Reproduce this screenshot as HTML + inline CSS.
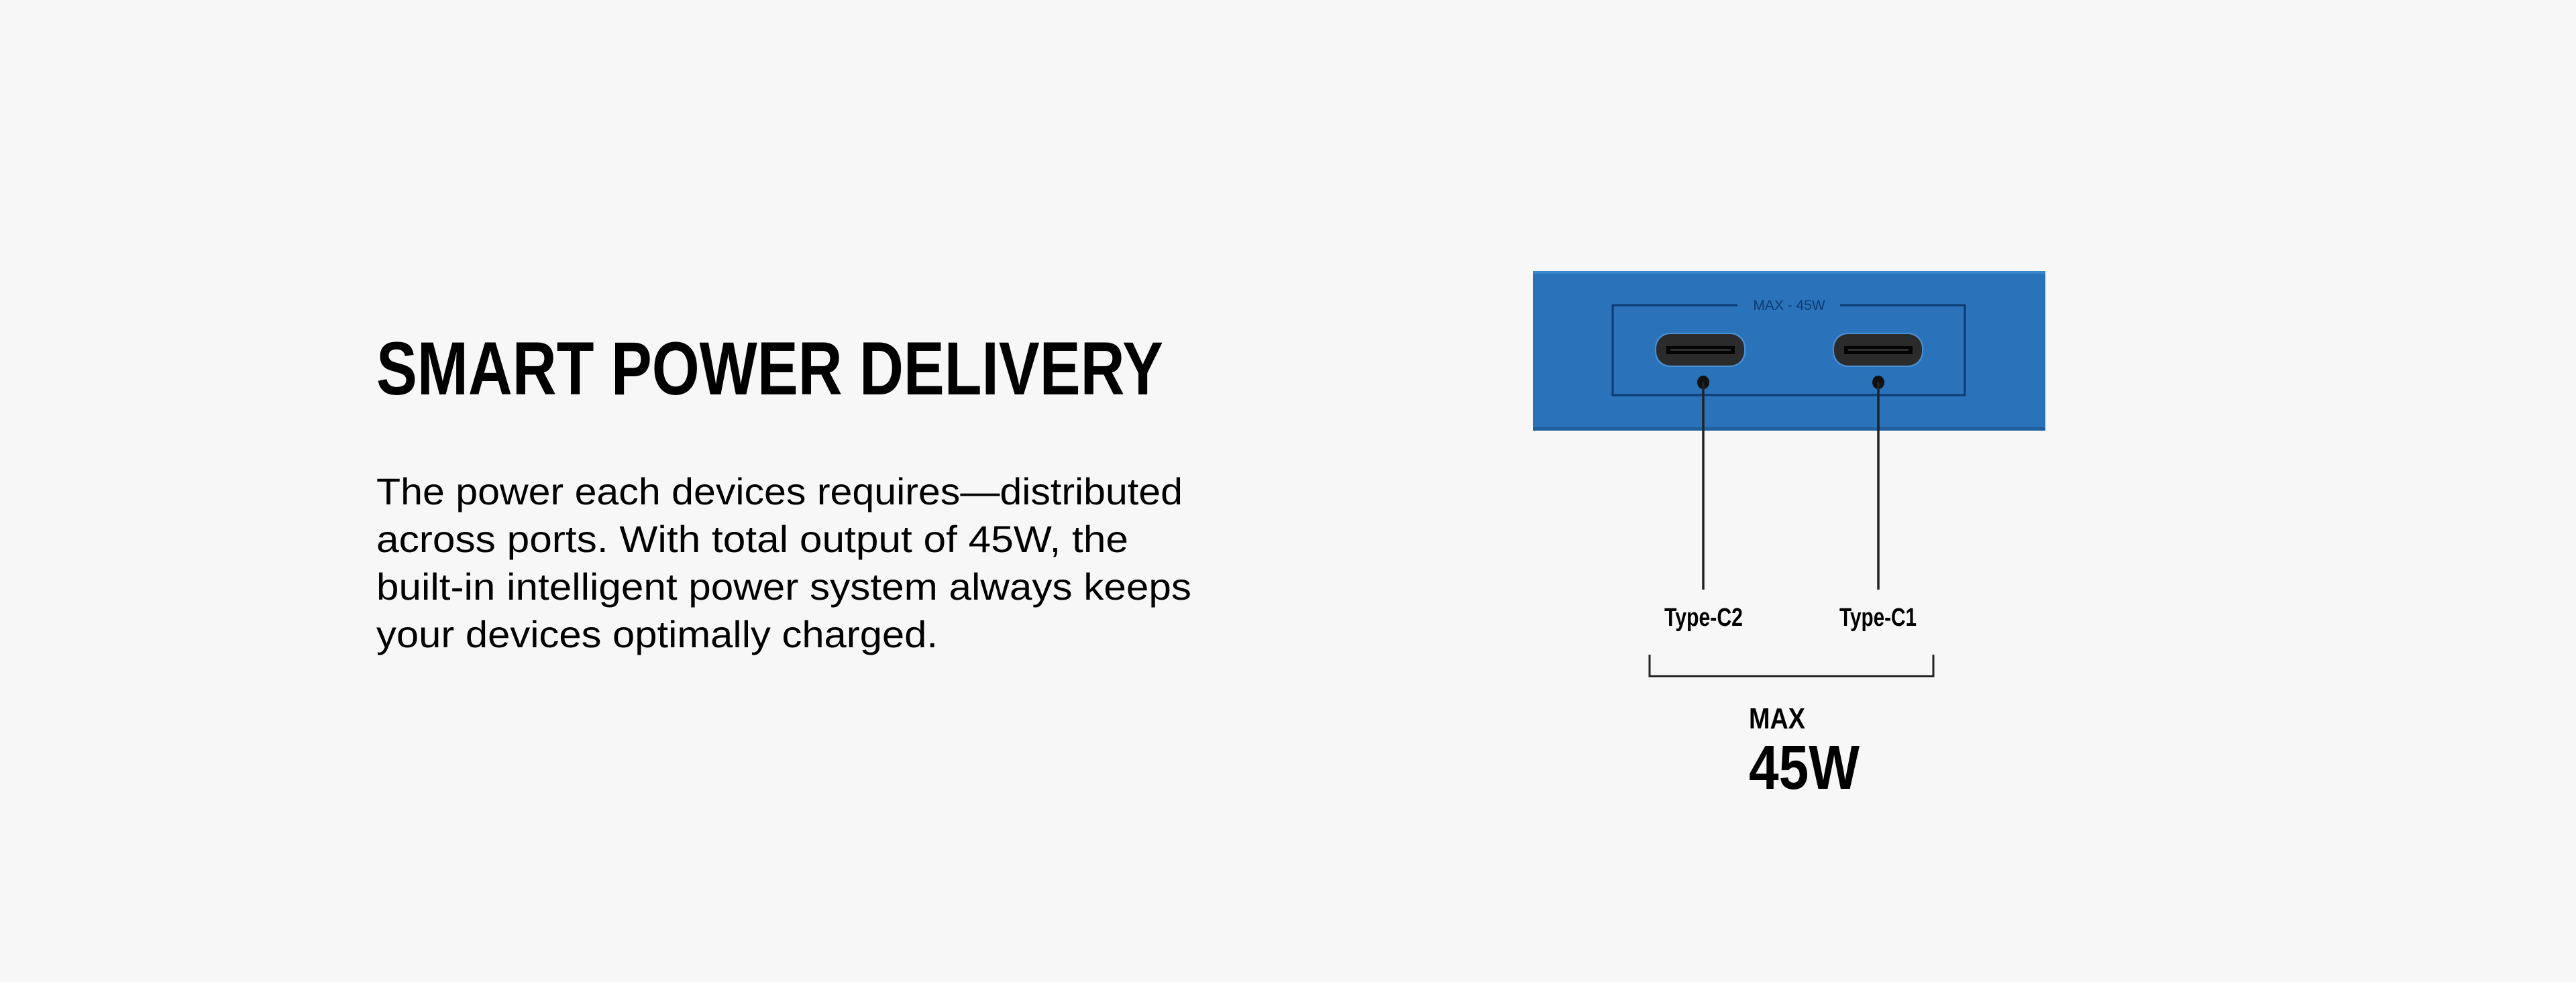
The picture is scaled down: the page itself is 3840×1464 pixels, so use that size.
<!DOCTYPE html>
<html><head><meta charset="utf-8"><style>
html,body{margin:0;padding:0;background:#f7f7f7;}
svg{display:block}
</style></head><body>
<svg width="3840" height="1464" viewBox="0 0 3840 1464" xmlns="http://www.w3.org/2000/svg">
<rect width="3840" height="1464" fill="#f7f7f7"/>
<text x="561" y="588" font-family="'Liberation Sans Narrow','Liberation Sans',sans-serif" font-weight="bold" font-size="112" fill="#000" textLength="1173" lengthAdjust="spacingAndGlyphs">SMART POWER DELIVERY</text>
<g font-family="'Liberation Sans',sans-serif" font-size="56" fill="#000">
<text x="561" y="752" textLength="1202" lengthAdjust="spacingAndGlyphs">The power each devices requires—distributed</text>
<text x="561" y="823" textLength="1121" lengthAdjust="spacingAndGlyphs">across ports. With total output of 45W, the</text>
<text x="561" y="894" textLength="1215" lengthAdjust="spacingAndGlyphs">built-in intelligent power system always keeps</text>
<text x="561" y="965" textLength="837" lengthAdjust="spacingAndGlyphs">your devices optimally charged.</text>
</g>
<rect x="2285" y="404" width="764" height="238" fill="#2a72b9"/>
<rect x="2285" y="404" width="764" height="4" fill="#3a86cc"/>
<rect x="2285" y="637" width="764" height="5" fill="#1f5f9e"/>
<path d="M2590 455 H2404 V589 H2929 V455 H2743" fill="none" stroke="#0c3b72" stroke-width="3"/>
<text x="2667" y="462" text-anchor="middle" font-family="'Liberation Sans Narrow','Liberation Sans',sans-serif" font-size="21" fill="#0c3b72">MAX - 45W</text>
<g>
<rect x="2467" y="496" width="135" height="51" rx="22" fill="#4a8fd4"/>
<rect x="2469" y="498" width="131" height="47" rx="21" fill="#2b2b2b"/>
<rect x="2484" y="516" width="102" height="12" fill="#050505"/>
<rect x="2490" y="521" width="90" height="1.5" fill="#555"/>
<rect x="2732" y="496" width="135" height="51" rx="22" fill="#4a8fd4"/>
<rect x="2734" y="498" width="131" height="47" rx="21" fill="#2b2b2b"/>
<rect x="2749" y="516" width="102" height="12" fill="#050505"/>
<rect x="2755" y="521" width="90" height="1.5" fill="#555"/>
</g>
<ellipse cx="2539" cy="570" rx="9" ry="10" fill="#111"/>
<ellipse cx="2800" cy="570" rx="9" ry="10" fill="#111"/>
<line x1="2539" y1="570" x2="2539" y2="879" stroke="#222" stroke-width="3.5"/>
<line x1="2800" y1="570" x2="2800" y2="879" stroke="#222" stroke-width="3.5"/>
<g font-family="'Liberation Sans Narrow','Liberation Sans',sans-serif" font-weight="bold" fill="#000">
<text x="2481" y="933" font-size="38" textLength="117" lengthAdjust="spacingAndGlyphs">Type-C2</text>
<text x="2742" y="933" font-size="38" textLength="115" lengthAdjust="spacingAndGlyphs">Type-C1</text>
</g>
<path d="M2459 976 V1008 H2882 V976" fill="none" stroke="#222" stroke-width="3"/>
<text x="2607" y="1086" font-family="'Liberation Sans Narrow','Liberation Sans',sans-serif" font-weight="bold" font-size="44" fill="#000" textLength="84" lengthAdjust="spacingAndGlyphs">MAX</text>
<text x="2607" y="1176" font-family="'Liberation Sans Narrow','Liberation Sans',sans-serif" font-weight="bold" font-size="93" fill="#000" textLength="165" lengthAdjust="spacingAndGlyphs">45W</text>
</svg>
</body></html>
